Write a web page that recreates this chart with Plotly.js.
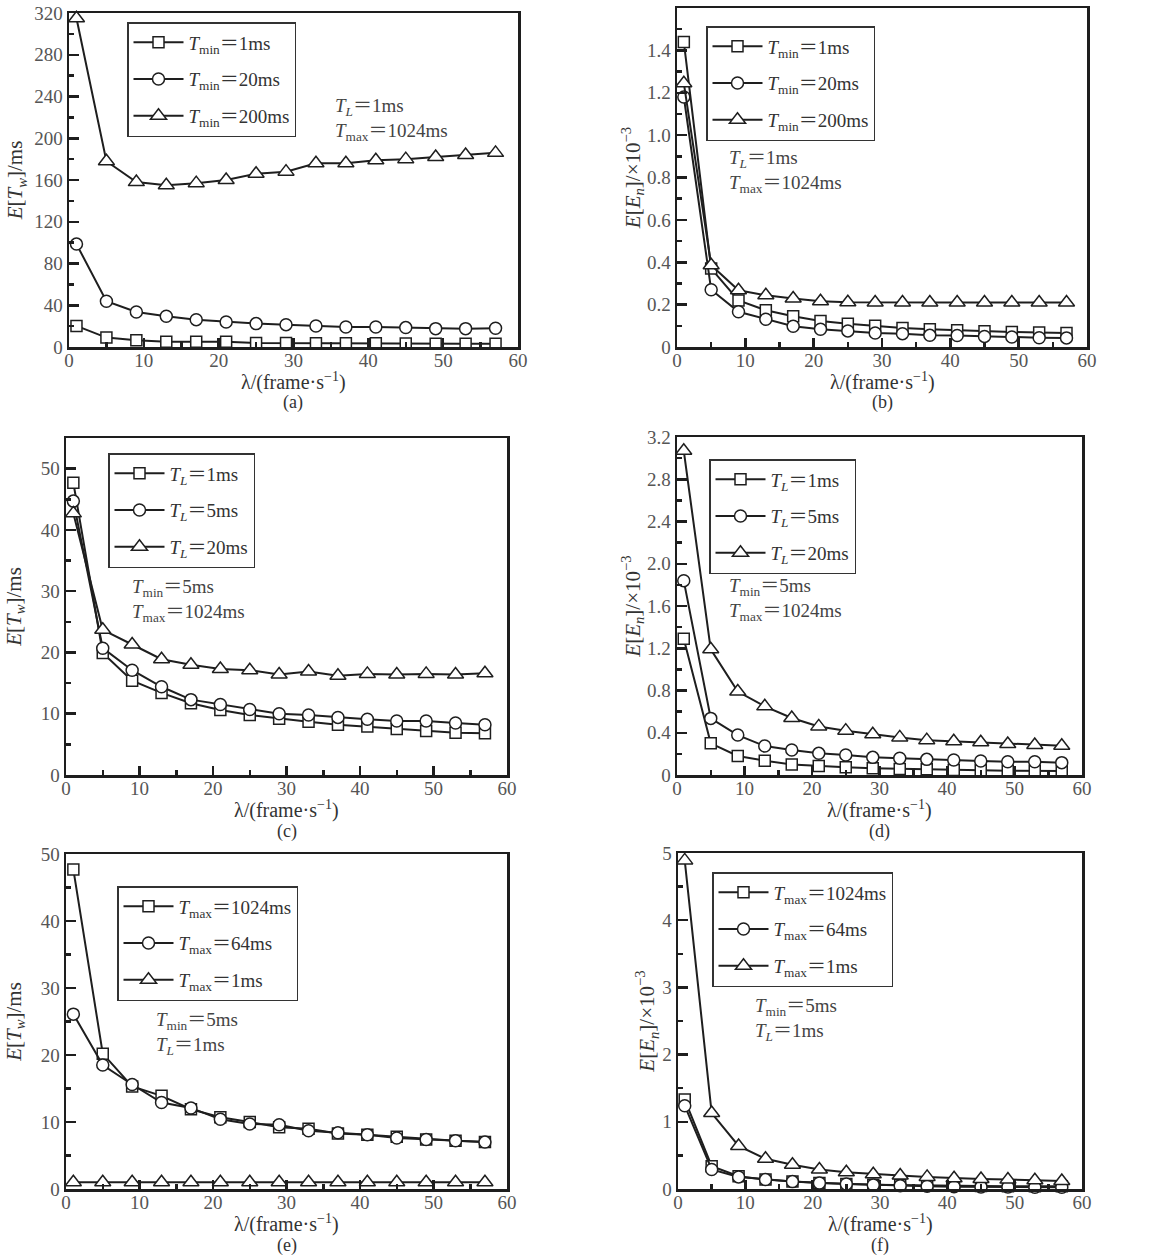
<!DOCTYPE html>
<html>
<head>
<meta charset="utf-8">
<script src="https://cdn.plot.ly/plotly-3.0.1.min.js"></script>
<style>
html,body{margin:0;padding:0;background:#fff;}
#chart{width:1166px;height:1260px;}
</style>
</head>
<body>
<div id="chart"></div>
<script>
// ---- data ----
const lambda = [1, 5, 9, 13, 17, 21, 25, 29, 33, 37, 41, 45, 49, 53, 57];

// (a) E[Tw]/ms, varying Tmin
const a_tmin1   = [20.2, 9.0, 6.4, 5.1, 5.0, 5.0, 3.8, 3.8, 3.6, 3.5, 3.5, 3.4, 3.2, 3.1, 3.0];
const a_tmin20  = [98.6, 43.8, 33.6, 29.4, 26.2, 24.0, 22.4, 21.4, 20.2, 19.2, 19.2, 18.6, 17.6, 17.6, 17.9];
const a_tmin200 = [315, 178, 158, 155, 157, 160, 166, 168, 176, 176, 179, 180, 182, 184, 186];

// (b) E[En]/1e-3, varying Tmin
const b_tmin1   = [1.44, 0.37, 0.22, 0.173, 0.145, 0.123, 0.11, 0.10, 0.09, 0.084, 0.079, 0.074, 0.071, 0.068, 0.066];
const b_tmin20  = [1.18, 0.27, 0.166, 0.131, 0.098, 0.084, 0.076, 0.066, 0.063, 0.055, 0.054, 0.050, 0.047, 0.044, 0.043];
const b_tmin200 = [1.245, 0.386, 0.268, 0.244, 0.229, 0.216, 0.211, 0.21, 0.21, 0.21, 0.21, 0.21, 0.21, 0.21, 0.21];

// (c) E[Tw]/ms, varying TL
const c_tl1  = [47.7, 19.9, 15.4, 13.4, 11.7, 10.6, 9.8, 9.2, 8.7, 8.2, 7.9, 7.5, 7.2, 6.9, 6.8];
const c_tl5  = [44.7, 20.7, 17.1, 14.4, 12.3, 11.5, 10.7, 10.0, 9.8, 9.4, 9.1, 8.8, 8.8, 8.5, 8.2];
const c_tl20 = [42.7, 23.7, 21.3, 18.9, 18.0, 17.3, 17.1, 16.4, 16.9, 16.2, 16.5, 16.4, 16.5, 16.4, 16.6];

// (d) E[En]/1e-3, varying TL
const d_tl1  = [1.29, 0.30, 0.18, 0.136, 0.10, 0.085, 0.073, 0.063, 0.057, 0.054, 0.047, 0.044, 0.041, 0.041, 0.038];
const d_tl5  = [1.84, 0.536, 0.378, 0.274, 0.236, 0.205, 0.19, 0.167, 0.158, 0.148, 0.142, 0.132, 0.126, 0.126, 0.117];
const d_tl20 = [3.07, 1.19, 0.79, 0.65, 0.54, 0.46, 0.42, 0.385, 0.356, 0.33, 0.32, 0.31, 0.293, 0.284, 0.277];

// (e) E[Tw]/ms, varying Tmax
const e_tmax1024 = [47.7, 20.2, 15.3, 13.9, 11.9, 10.7, 10.0, 9.2, 9.0, 8.3, 8.1, 7.8, 7.4, 7.2, 7.0];
const e_tmax64   = [26.1, 18.5, 15.6, 12.9, 12.1, 10.4, 9.7, 9.6, 8.7, 8.4, 8.1, 7.6, 7.4, 7.2, 7.0];
const e_tmax1    = [1.0, 1.0, 1.0, 1.0, 1.0, 1.0, 1.0, 1.0, 1.0, 1.0, 1.0, 1.0, 1.0, 1.0, 1.0];

// (f) E[En]/1e-3, varying Tmax
const f_tmax1024 = [1.33, 0.34, 0.19, 0.14, 0.11, 0.09, 0.075, 0.065, 0.058, 0.052, 0.048, 0.045, 0.042, 0.04, 0.04];
const f_tmax64   = [1.24, 0.29, 0.18, 0.14, 0.11, 0.09, 0.075, 0.06, 0.05, 0.04, 0.035, 0.03, 0.03, 0.025, 0.025];
const f_tmax1    = [4.89, 1.13, 0.64, 0.45, 0.36, 0.29, 0.25, 0.22, 0.20, 0.18, 0.16, 0.15, 0.14, 0.13, 0.12];

// labels
const namesTmin = ['<i>T</i><sub>min</sub>＝1ms', '<i>T</i><sub>min</sub>＝20ms', '<i>T</i><sub>min</sub>＝200ms'];
const namesTL   = ['<i>T</i><sub><i>L</i></sub>＝1ms', '<i>T</i><sub><i>L</i></sub>＝5ms', '<i>T</i><sub><i>L</i></sub>＝20ms'];
const namesTmax = ['<i>T</i><sub>max</sub>＝1024ms', '<i>T</i><sub>max</sub>＝64ms', '<i>T</i><sub>max</sub>＝1ms'];
const yTitleTw = '<i>E</i>[<i>T</i><sub><i>w</i></sub>]/ms';
const yTitleEn = '<i>E</i>[<i>E</i><sub><i>n</i></sub>]/×10<sup>−3</sup>';
const xTitle = 'λ/(frame·s<sup>−1</sup>)';
const captions = ['(a)', '(b)', '(c)', '(d)', '(e)', '(f)'];
const notes = [
  '<i>T</i><sub><i>L</i></sub>＝1ms<br><i>T</i><sub>max</sub>＝1024ms',
  '<i>T</i><sub><i>L</i></sub>＝1ms<br><i>T</i><sub>max</sub>＝1024ms',
  '<i>T</i><sub>min</sub>＝5ms<br><i>T</i><sub>max</sub>＝1024ms',
  '<i>T</i><sub>min</sub>＝5ms<br><i>T</i><sub>max</sub>＝1024ms',
  '<i>T</i><sub>min</sub>＝5ms<br><i>T</i><sub><i>L</i></sub>＝1ms',
  '<i>T</i><sub>min</sub>＝5ms<br><i>T</i><sub><i>L</i></sub>＝1ms'
];
const xTickVals = [0, 10, 20, 30, 40, 50, 60];
const yTicksA = [0, 40, 80, 120, 160, 200, 240, 280, 320];
const yTicksB = [0, 0.2, 0.4, 0.6, 0.8, 1.0, 1.2, 1.4, 1.6];
const yTickTextB = ['0', '0.2', '0.4', '0.6', '0.8', '1.0', '1.2', '1.4', '1.6'];
const yTicksC = [0, 10, 20, 30, 40, 50];
const yTicksD = [0, 0.4, 0.8, 1.2, 1.6, 2.0, 2.4, 2.8, 3.2];
const yTickTextD = ['0', '0.4', '0.8', '1.2', '1.6', '2.0', '2.4', '2.8', '3.2'];
const yTicksE = [0, 10, 20, 30, 40, 50];
const yTicksF = [0, 1, 2, 3, 4, 5];

// ---- styling / layout helpers ----
const W = 1166, H = 1260;
const FONT = '"Liberation Serif", "Noto Sans CJK SC", serif';
const INK = '#1e1e1e';
function px(x) { return x / W; }
function py(y) { return 1 - y / H; }

// plot-area rectangles in pixels [left, right, top, bottom]
const panels = [
  {box: [69, 518, 13, 347],   yr: [0, 320], tv: yTicksA, tt: null, minor: 20,  yt: yTitleTw, names: namesTmin, ys: [a_tmin1, a_tmin20, a_tmin200], leg: [127, 22], note: [333, 93], ystand: 6},
  {box: [677, 1087, 8, 347],  yr: [0, 1.6], tv: yTicksB, tt: yTickTextB, minor: 0.1, yt: yTitleEn, names: namesTmin, ys: [b_tmin1, b_tmin20, b_tmin200], leg: [706, 26], note: [727, 145], ystand: 0},
  {box: [66, 507, 438, 775],  yr: [0, 55],  tv: yTicksC, tt: null, minor: 5,   yt: yTitleTw, names: namesTL, ys: [c_tl1, c_tl5, c_tl20], leg: [108, 453], note: [130, 574], ystand: 14},
  {box: [677, 1082, 437, 775],yr: [0, 3.2], tv: yTicksD, tt: yTickTextD, minor: 0.2, yt: yTitleEn, names: namesTL, ys: [d_tl1, d_tl5, d_tl20], leg: [709, 459], note: [727, 573], ystand: 0},
  {box: [66, 507, 854, 1189], yr: [0, 50],  tv: yTicksE, tt: null, minor: 5,   yt: yTitleTw, names: namesTmax, ys: [e_tmax1024, e_tmax64, e_tmax1], leg: [117, 886], note: [154, 1007], ystand: 14},
  {box: [678, 1082, 853, 1189],yr: [0, 5],  tv: yTicksF, tt: null, minor: 0.5, yt: yTitleEn, names: namesTmax, ys: [f_tmax1024, f_tmax64, f_tmax1], leg: [712, 872], note: [753, 993], ystand: 2}
];
const symbols = ['square', 'circle', 'triangle-up'];
const msizes = [11, 12, 14];

const traces = [];
const layout = {
  width: W, height: H,
  margin: {l: 0, r: 0, t: 0, b: 0},
  paper_bgcolor: '#fff', plot_bgcolor: '#fff',
  font: {family: FONT, size: 18, color: '#444'},
  showlegend: true,
  annotations: []
};

panels.forEach((p, i) => {
  const n = i + 1;
  const xa = n === 1 ? 'x' : 'x' + n;
  const ya = n === 1 ? 'y' : 'y' + n;
  const lg = n === 1 ? 'legend' : 'legend' + n;
  const [l, r, t, b] = p.box;

  p.ys.forEach((ys, k) => {
    traces.push({
      type: 'scatter', mode: 'lines+markers',
      x: lambda, y: ys, name: p.names[k],
      xaxis: xa, yaxis: ya, legend: lg,
      legendgroup: 'g' + n + '_' + k,
      cliponaxis: false,
      line: {color: INK, width: 2},
      marker: {symbol: symbols[k], size: msizes[k], color: '#fff', line: {color: INK, width: 1.5}}
    });
  });

  layout['xaxis' + (n === 1 ? '' : n)] = {
    domain: [px(l), px(r)], anchor: ya, range: [0, 60],
    tickvals: xTickVals, ticks: 'inside', ticklen: 9, tickwidth: 2.5, tickcolor: INK,
    ticklabelstandoff: -5,
    minor: {dtick: 5, tick0: 0, ticks: 'inside', ticklen: 5, tickwidth: 2.5, tickcolor: INK, showgrid: false},
    showline: true, mirror: true, linecolor: INK, linewidth: 2.5,
    showgrid: false, zeroline: false,
    tickfont: {family: FONT, size: 19, color: '#555'}
  };
  const yax = {
    domain: [py(b), py(t)], anchor: xa, range: p.yr,
    tickvals: p.tv, ticks: 'inside', ticklen: 10, tickwidth: 2.5, tickcolor: INK,
    minor: {dtick: p.minor, tick0: 0, ticks: 'inside', ticklen: 5, tickwidth: 2.5, tickcolor: INK, showgrid: false},
    showline: true, mirror: true, linecolor: INK, linewidth: 2.5,
    showgrid: false, zeroline: false,
    tickfont: {family: FONT, size: 19, color: '#555'},
    title: {text: p.yt, font: {family: FONT, size: 21, color: '#333'}, standoff: p.ystand}
  };
  if (p.tt) yax.ticktext = p.tt;
  layout['yaxis' + (n === 1 ? '' : n)] = yax;

  layout[lg] = {
    x: px(p.leg[0]), y: py(p.leg[1]), xanchor: 'left', yanchor: 'top',
    bgcolor: '#fff', bordercolor: '#333', borderwidth: 1.5,
    font: {family: FONT, size: 19, color: '#333'},
    traceorder: 'grouped', tracegroupgap: 9, itemwidth: 50,
    itemsizing: 'trace'
  };

  // parameter note
  layout.annotations.push({
    xref: 'paper', yref: 'paper', x: px(p.note[0]), y: py(p.note[1]),
    xanchor: 'left', yanchor: 'top', align: 'left', showarrow: false,
    text: notes[i], font: {family: FONT, size: 19, color: '#444'}
  });
  // x-axis title
  layout.annotations.push({
    xref: 'paper', yref: 'paper', x: px((l + r) / 2), y: py(b + 34),
    xanchor: 'center', yanchor: 'middle', showarrow: false,
    text: xTitle, font: {family: FONT, size: 20, color: '#333'}
  });
  // sub-figure caption
  layout.annotations.push({
    xref: 'paper', yref: 'paper', x: px((l + r) / 2), y: py(b + 56),
    xanchor: 'center', yanchor: 'middle', showarrow: false,
    text: captions[i], font: {family: FONT, size: 18, color: '#333'}
  });
});

Plotly.newPlot('chart', traces, layout, {staticPlot: true, displayModeBar: false});
</script>
</body>
</html>
